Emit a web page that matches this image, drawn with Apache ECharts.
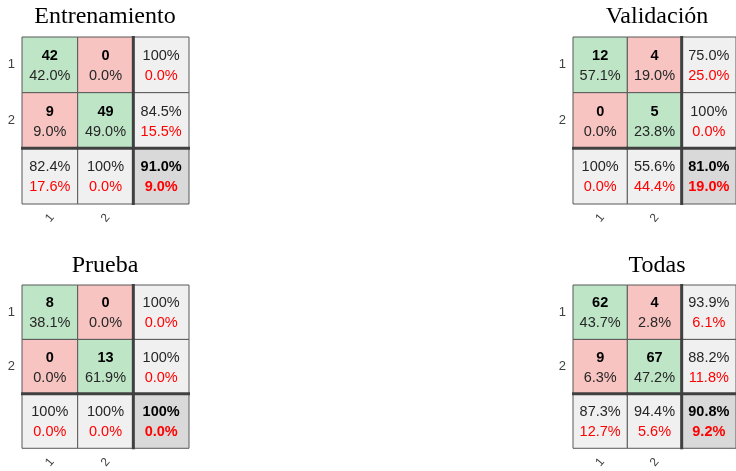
<!DOCTYPE html>
<html>
<head>
<meta charset="utf-8">
<script src="https://cdn.jsdelivr.net/npm/echarts@6/dist/echarts.min.js"></script>
<style>
  html, body { margin: 0; padding: 0; background: #fff; }
  #chart { width: 736px; height: 471px; }
</style>
</head>
<body>
<div id="chart"></div>
<script>
// clases y titulos
const classes = ['1', '2', ''];
const panelTitles = ['Entrenamiento', 'Validación', 'Prueba', 'Todas'];

// conteos por celda (fila = salida, columna = objetivo)
const countsTrain = [[42, 0], [9, 49]];
const countsVal   = [[12, 4], [0, 5]];
const countsTest  = [[8, 0], [0, 13]];
const countsAll   = [[62, 4], [9, 67]];

// porcentaje del total por celda
const pctTrain = [[42.0, 0.0], [9.0, 49.0]];
const pctVal   = [[57.1, 19.0], [0.0, 23.8]];
const pctTest  = [[38.1, 0.0], [0.0, 61.9]];
const pctAll   = [[43.7, 2.8], [6.3, 47.2]];

// acierto / error por fila
const rowOkTrain = [100, 84.5], rowErrTrain = [0.0, 15.5];
const rowOkVal   = [75.0, 100], rowErrVal   = [25.0, 0.0];
const rowOkTest  = [100, 100],  rowErrTest  = [0.0, 0.0];
const rowOkAll   = [93.9, 88.2], rowErrAll  = [6.1, 11.8];

// acierto / error por columna
const colOkTrain = [82.4, 100], colErrTrain = [17.6, 0.0];
const colOkVal   = [100, 55.6], colErrVal   = [0.0, 44.4];
const colOkTest  = [100, 100],  colErrTest  = [0.0, 0.0];
const colOkAll   = [87.3, 94.4], colErrAll  = [12.7, 5.6];

// total
const totalOk  = [91.0, 81.0, 100, 90.8];
const totalErr = [9.0, 19.0, 0.0, 9.2];

const panels = [
  { counts: countsTrain, pct: pctTrain, rowOk: rowOkTrain, rowErr: rowErrTrain, colOk: colOkTrain, colErr: colErrTrain },
  { counts: countsVal,   pct: pctVal,   rowOk: rowOkVal,   rowErr: rowErrVal,   colOk: colOkVal,   colErr: colErrVal },
  { counts: countsTest,  pct: pctTest,  rowOk: rowOkTest,  rowErr: rowErrTest,  colOk: colOkTest,  colErr: colErrTest },
  { counts: countsAll,   pct: pctAll,   rowOk: rowOkAll,   rowErr: rowErrAll,   colOk: colOkAll,   colErr: colErrAll }
];

const gridPos = [
  { left: 22,  top: 37,  width: 167, height: 167 },
  { left: 573, top: 37,  width: 168, height: 167 },
  { left: 22,  top: 285, width: 167, height: 167 },
  { left: 573, top: 285, width: 168, height: 167 }
];
const titlePos = [
  { left: 105, top: 5 },
  { left: 657, top: 5 },
  { left: 105, top: 254 },
  { left: 657, top: 254 }
];

const GREEN = '#bde5c6', RED = '#f7c4c1', GRAY = '#f0f0f0', CORNER = '#d9d9d9';
const FONT = '"Liberation Sans", Arial, sans-serif';

function fmt(v) {
  return v === 100 ? '100%' : v.toFixed(1) + '%';
}

// arma las 9 celdas de un panel: [col, fila, texto1, texto2, tipo]
function buildCells(p, k) {
  const cells = [];
  for (let r = 0; r < 2; r++) {
    for (let c = 0; c < 2; c++) {
      cells.push([c, r, String(p.counts[r][c]), fmt(p.pct[r][c]), r === c ? 'ok' : 'bad']);
    }
    cells.push([2, r, fmt(p.rowOk[r]), fmt(p.rowErr[r]), 'row']);
  }
  for (let c = 0; c < 2; c++) {
    cells.push([c, 2, fmt(p.colOk[c]), fmt(p.colErr[c]), 'col']);
  }
  cells.push([2, 2, fmt(totalOk[k]), fmt(totalErr[k]), 'total']);
  return cells;
}

function renderCell(params, api, cells) {
  const c = api.value(0), r = api.value(1);
  const item = cells[params.dataIndex];
  const kind = item[4];
  const center = api.coord([c, r]);
  const size = api.size([1, 1]);
  const w = size[0], h = size[1];
  const x0 = center[0] - w / 2, y0 = center[1] - h / 2;
  let fill = GRAY;
  if (kind === 'ok') fill = GREEN;
  else if (kind === 'bad') fill = RED;
  else if (kind === 'total') fill = CORNER;

  const isMain = kind === 'ok' || kind === 'bad';
  const children = [
    { type: 'rect', shape: { x: x0, y: y0, width: w, height: h },
      style: { fill: fill, stroke: '#595959', lineWidth: 1 } },
    { type: 'text',
      style: { text: item[2], x: center[0], y: center[1] - 9, align: 'center', verticalAlign: 'middle',
        fill: isMain || kind === 'total' ? '#000' : '#262626',
        font: (isMain || kind === 'total' ? 'bold ' : '') + '14.5px ' + FONT } },
    { type: 'text',
      style: { text: item[3], x: center[0], y: center[1] + 11, align: 'center', verticalAlign: 'middle',
        fill: isMain ? '#262626' : '#ff0000',
        font: (kind === 'total' ? 'bold ' : '') + '14.5px ' + FONT } }
  ];
  // lineas gruesas que separan los totales
  if (c === 2) {
    children.push({ type: 'line', shape: { x1: x0, y1: y0 - 1, x2: x0, y2: y0 + h + 1 },
      style: { stroke: '#404040', lineWidth: 3 } });
  }
  if (r === 2) {
    children.push({ type: 'line', shape: { x1: x0 - 1, y1: y0, x2: x0 + w + 1, y2: y0 },
      style: { stroke: '#404040', lineWidth: 3 } });
  }
  return { type: 'group', children: children };
}

const chart = echarts.init(document.getElementById('chart'), null, { renderer: 'canvas' });

const option = {
  backgroundColor: '#fff',
  animation: false,
  title: panelTitles.map((t, i) => ({
    text: t,
    left: titlePos[i].left,
    top: titlePos[i].top,
    textAlign: 'center',
    padding: 0,
    textStyle: { fontFamily: '"Liberation Serif", "Times New Roman", serif', fontWeight: 'normal', fontSize: 24, color: '#000' }
  })),
  grid: gridPos.map(g => Object.assign({ containLabel: false }, g)),
  xAxis: gridPos.map((g, i) => ({
    type: 'category',
    gridIndex: i,
    data: classes,
    boundaryGap: true,
    axisLine: { show: false },
    axisTick: { show: false },
    splitLine: { show: false },
    axisLabel: { rotate: 50, margin: 14, align: 'center', verticalAlign: 'middle',
      color: '#404040', fontSize: 12, fontFamily: FONT, interval: 0 }
  })),
  yAxis: gridPos.map((g, i) => ({
    type: 'category',
    gridIndex: i,
    data: classes,
    inverse: true,
    boundaryGap: true,
    axisLine: { show: false },
    axisTick: { show: false },
    splitLine: { show: false },
    axisLabel: { margin: 7, color: '#404040', fontSize: 13, fontFamily: FONT, interval: 0 }
  })),
  series: panels.map((p, i) => {
    const cells = buildCells(p, i);
    return {
      type: 'custom',
      xAxisIndex: i,
      yAxisIndex: i,
      renderItem: function (params, api) {
        return renderCell(params, api, cells);
      },
      data: cells.map(cl => [cl[0], cl[1]]),
      silent: true
    };
  })
};

chart.setOption(option);
</script>
</body>
</html>
